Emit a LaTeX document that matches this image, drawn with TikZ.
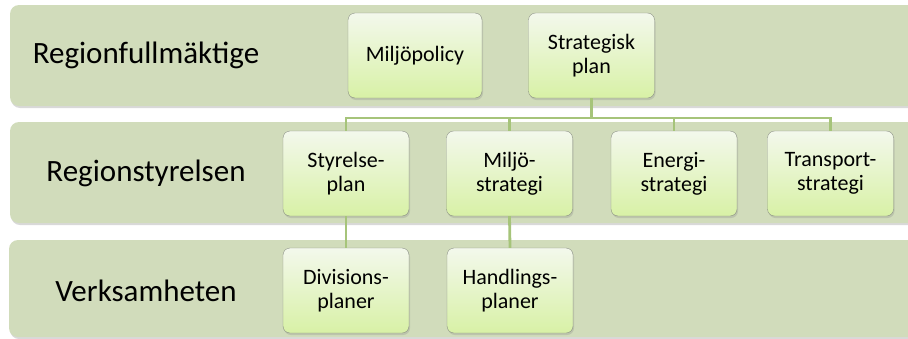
\documentclass[tikz,border=0pt]{standalone}
\usepackage{fontspec}
\setmainfont{Carlito}
\usetikzlibrary{shadows}
\usepackage{xcolor}
\definecolor{band}{HTML}{D1DCBB}
\definecolor{boxtop}{HTML}{F3F8EC}
\definecolor{boxbot}{HTML}{D8F1A6}
\definecolor{boxline}{HTML}{8A8F84}
\definecolor{linkc}{HTML}{A6C47A}

\begin{document}
\begin{tikzpicture}[x=1pt, y=-1pt,
	bandbox/.style={fill=band, rounded corners=9pt, drop shadow={shadow xshift=1pt, shadow yshift=-2pt, opacity=0.3}},
	plan/.style={draw=boxline, rounded corners=7pt, top color=boxtop, bottom color=boxbot, minimum width=126pt, minimum height=85pt, inner sep=0pt, align=center, font=\fontsize{22}{24}\selectfont, drop shadow={shadow xshift=1pt, shadow yshift=-2pt, opacity=0.25}},
	level/.style={font=\fontsize{31}{34}\selectfont},
	link/.style={draw=linkc, line width=2.8pt}]
	\useasboundingbox (0, 0) rectangle (908, 338);
	\clip (0, 0) rectangle (908, 338);

	% the three bands
	\fill[bandbox] (10, 5) rectangle (940, 106);
	\fill[bandbox] (10, 122) rectangle (940, 223);
	\fill[bandbox] (9, 240) rectangle (940, 337);

	\node[level] (rf) at (146, 55) {Regionfullmäktige};
	\node[level] (rs) at (146, 173) {Regionstyrelsen};
	\node[level] (vh) at (146, 291) {Verksamheten};

	% top level
	\node[plan, minimum width=134pt] (pol) at (415, 55.5) {Miljöpolicy};
	\node[plan] (strat) at (591.5, 55.5) {Strategisk\\plan};

	% second level
	\node[plan] (sty) at (346, 173.5) {Styrelse-\\plan};
	\node[plan] (milj) at (509.5, 173.5) {Miljö-\\strategi};
	\node[plan] (ene) at (674, 173.5) {Energi-\\strategi};
	\node[plan] (tra) at (830.5, 173.5) {Transport-\\strategi};

	% third level
	\node[plan] (div) at (346, 290.5) {Divisions-\\planer};
	\node[plan] (hand) at (510, 290.5) {Handlings-\\planer};

	\coordinate (bus) at (591.5, 118);
	\foreach \c in {sty, milj, ene, tra} {
			\draw[link] (strat.south) -- (bus) -| (\c.north);
		}
	\draw[link] (sty.south) -- (div.north);
	\draw[link] (milj.south) -- (hand.north);
\end{tikzpicture}
\end{document}
